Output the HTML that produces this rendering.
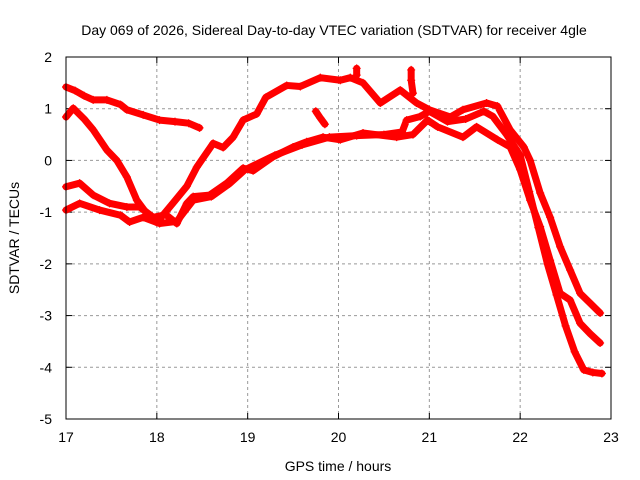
<!DOCTYPE html>
<html><head><meta charset="utf-8"><style>
body{margin:0;background:#fff}
svg{display:block;font-family:"Liberation Sans",sans-serif}
</style></head><body>
<svg id="chart" width="640" height="480">
<rect width="640" height="480" fill="#fff"/>
<text x="334" y="35" font-size="14" text-anchor="middle">Day 069 of 2026, Sidereal Day-to-day VTEC variation (SDTVAR) for receiver 4gle</text>
<text x="338" y="471" font-size="14" text-anchor="middle">GPS time / hours</text>
<text transform="translate(19,238) rotate(-90)" font-size="14" text-anchor="middle">SDTVAR / TECUs</text>
<g id="grid"></g><g id="series"></g>
<rect x="66" y="57" width="545" height="362" fill="none" stroke="#000"/>
</svg>
<script>
const xTicks=[17,18,19,20,21,22,23];
const yTicks=[2,1,0,-1,-2,-3,-4,-5];
const seriesA=[[17.0,1.42],[17.1,1.35],[17.2,1.25],[17.3,1.17],[17.45,1.17],[17.6,1.08],[17.67,0.98],[17.85,0.88],[18.03,0.78],[18.2,0.75],[18.35,0.72],[18.47,0.63]];
const seriesB=[[17.0,0.84],[17.08,1.01],[17.2,0.8],[17.3,0.59],[17.45,0.2],[17.56,0.0],[17.67,-0.32],[17.78,-0.77],[17.92,-1.1],[18.0,-1.2],[18.18,-0.82],[18.33,-0.5],[18.44,-0.13],[18.62,0.33],[18.73,0.25],[18.84,0.45],[18.95,0.78],[19.1,0.9],[19.2,1.22],[19.43,1.45],[19.58,1.43],[19.8,1.6],[20.02,1.55],[20.13,1.6],[20.27,1.5],[20.46,1.11],[20.68,1.36],[20.86,1.11],[21.0,0.98],[21.23,0.84],[21.37,0.98],[21.63,1.11],[21.75,1.05],[21.89,0.59],[22.04,0.26],[22.11,0.0],[22.22,-0.63],[22.33,-1.1],[22.44,-1.67],[22.55,-2.12],[22.66,-2.57],[22.77,-2.76],[22.88,-2.95]];
const seriesC=[[17.0,-0.51],[17.15,-0.44],[17.3,-0.67],[17.48,-0.83],[17.67,-0.9],[17.81,-0.9],[17.96,-1.1],[18.1,-1.05],[18.22,-1.22],[18.33,-0.83],[18.4,-0.7],[18.58,-0.67],[18.77,-0.44],[18.95,-0.15],[19.06,-0.2],[19.28,0.07],[19.5,0.26],[19.65,0.36],[19.83,0.45],[20.02,0.4],[20.27,0.53],[20.64,0.45],[20.82,0.5],[20.98,0.78],[21.09,0.65],[21.37,0.45],[21.52,0.65],[21.75,0.4],[21.89,0.26],[22.0,-0.18],[22.11,-0.77],[22.22,-1.28],[22.33,-1.93],[22.44,-2.57],[22.55,-2.7],[22.66,-3.15],[22.77,-3.35],[22.88,-3.53]];
const seriesD=[[17.0,-0.96],[17.15,-0.83],[17.37,-0.96],[17.6,-1.06],[17.7,-1.19],[17.85,-1.1],[18.03,-1.22],[18.22,-1.18],[18.29,-1.02],[18.4,-0.77],[18.6,-0.7],[18.8,-0.45],[18.97,-0.18],[19.3,0.1],[19.6,0.3],[19.9,0.45],[20.2,0.48],[20.5,0.5],[20.7,0.55],[20.75,0.78],[20.9,0.85],[21.0,0.95],[21.2,0.75],[21.4,0.8],[21.6,0.95],[21.7,0.85],[21.85,0.5],[22.0,0.1],[22.1,-0.6],[22.2,-1.3],[22.3,-2.0],[22.4,-2.6],[22.5,-3.2],[22.6,-3.7],[22.7,-4.05],[22.8,-4.1],[22.9,-4.12]];
const seriesE=[[19.75,0.95],[19.8,0.82],[19.85,0.7]];
const seriesF=[[20.8,1.75],[20.8,1.55],[20.82,1.3]];
const seriesG=[[20.2,1.78],[20.2,1.65]];
const allSeries=[seriesA,seriesB,seriesC,seriesD,seriesE,seriesF,seriesG];
const X=h=>66+(h-17)*545/6;
const Y=v=>57+(2-v)*362/7;
const NS="http://www.w3.org/2000/svg";
const grid=document.getElementById('grid'),ser=document.getElementById('series'),svg=document.getElementById('chart');
function mk(tag,a,p){const e=document.createElementNS(NS,tag);for(const k in a)e.setAttribute(k,a[k]);p.appendChild(e);return e;}
xTicks.forEach(t=>{
 if(t>17&&t<23){const g=mk('line',{x1:X(t),x2:X(t),y1:57,y2:419,stroke:'#999','stroke-dasharray':'3,3'},grid);
 
 }
 mk('line',{x1:X(t),x2:X(t),y1:419,y2:413,stroke:'#000'},grid);
 mk('line',{x1:X(t),x2:X(t),y1:57,y2:63,stroke:'#000'},grid);
 const l=mk('text',{x:X(t),y:442,'font-size':14,'text-anchor':'middle'},svg);l.textContent=t;
 
 
});
yTicks.forEach(t=>{
 if(t<2&&t>-5){const g=mk('line',{x1:66,x2:611,y1:Y(t),y2:Y(t),stroke:'#999','stroke-dasharray':'3,3'},grid);
 
 }
 mk('line',{x1:66,x2:72,y1:Y(t),y2:Y(t),stroke:'#000'},grid);
 mk('line',{x1:611,x2:605,y1:Y(t),y2:Y(t),stroke:'#000'},grid);
 const l=mk('text',{x:52,y:Y(t)+5,'font-size':14,'text-anchor':'end'},svg);l.textContent=t;
 
 
});
allSeries.forEach((s,i)=>{
 const pl=mk('polyline',{points:s.map(p=>X(p[0])+','+Y(p[1])).join(' '),fill:'none',stroke:'#f00','stroke-width':7,'stroke-linejoin':'round','stroke-linecap':'round'},ser);
 
 
 s.forEach(p=>{const x=X(p[0]),y=Y(p[1]);
  const m=mk('path',{d:`M${x-4},${y}H${x+4}M${x},${y-4}V${y+4}`,stroke:'#f00','stroke-width':1.2},ser);
  
  });
});
</script>
</body></html>
